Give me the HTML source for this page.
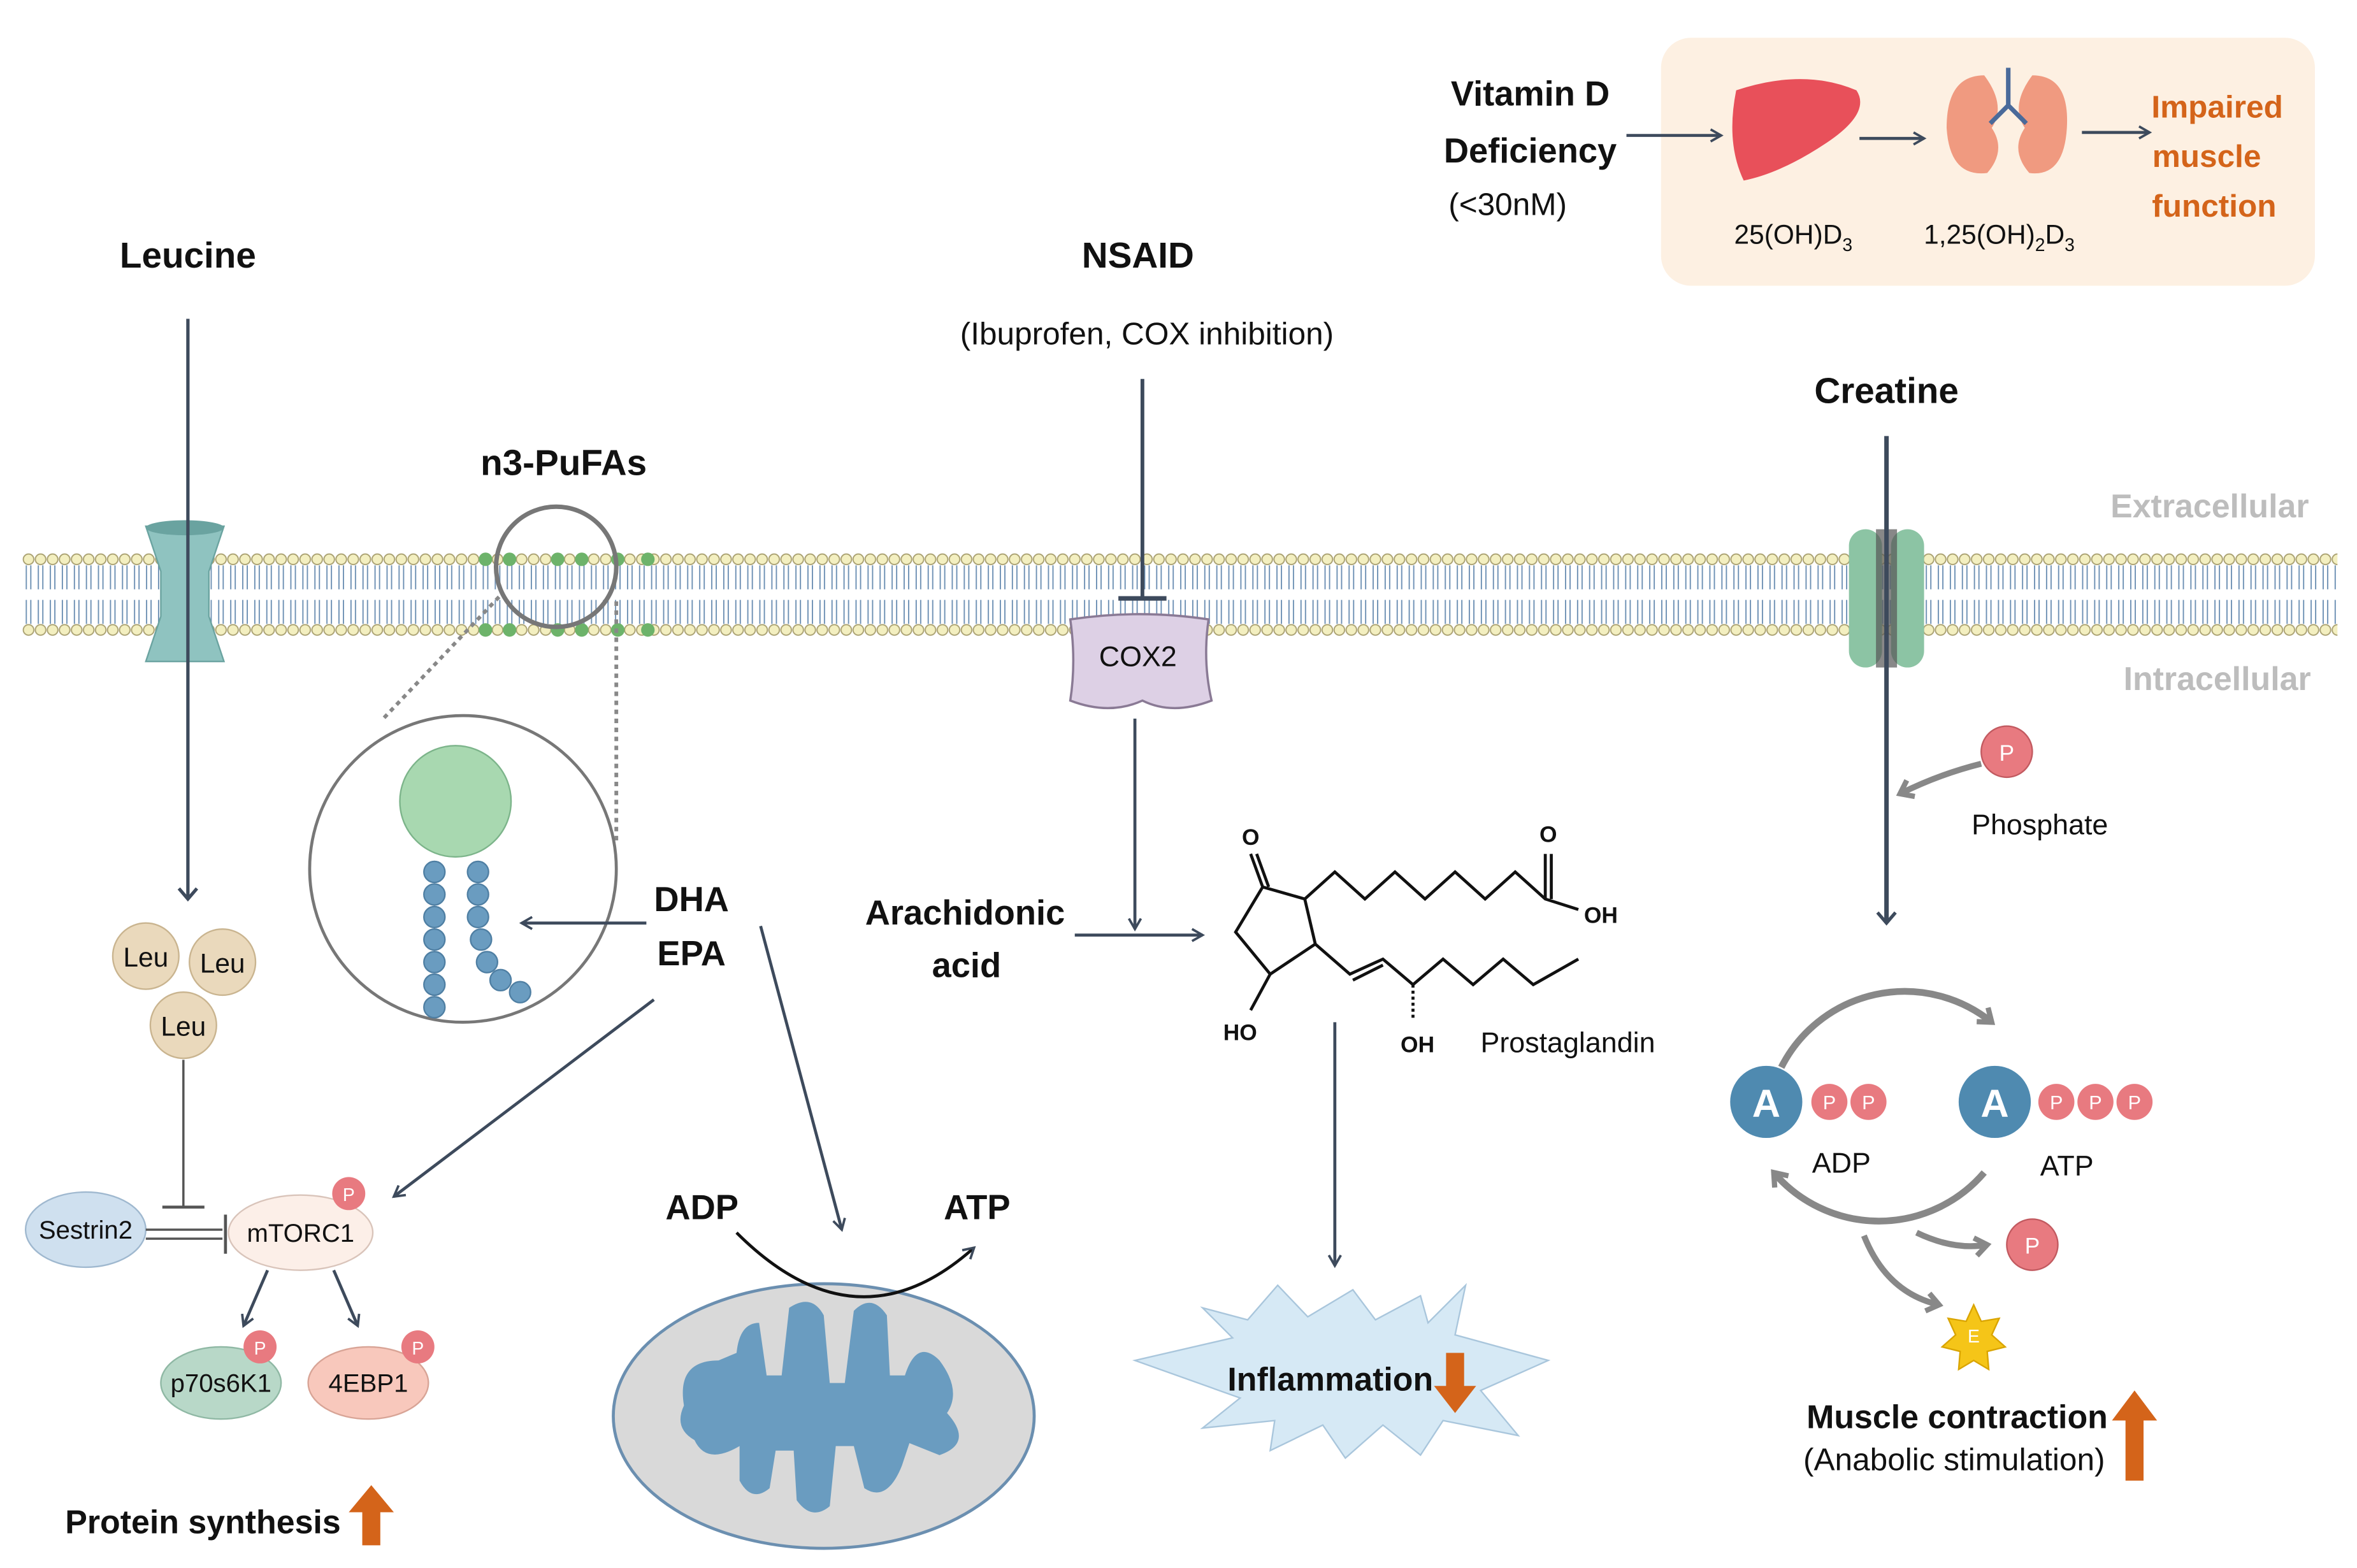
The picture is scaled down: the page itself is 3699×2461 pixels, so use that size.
<!DOCTYPE html>
<html><head><meta charset="utf-8"><style>
html,body{margin:0;padding:0;background:#fff;}
svg{display:block;}
text{font-family:"Liberation Sans",sans-serif;fill:#111;}
.b{font-weight:bold;}
</style></head><body>
<svg width="3699" height="2461" viewBox="0 0 1568 1043" xmlns="http://www.w3.org/2000/svg">
<defs>
<marker id="ar" markerWidth="10" markerHeight="10" refX="8" refY="5" orient="auto" markerUnits="userSpaceOnUse"><path d="M1,1 L8,5 L1,9" fill="none" stroke="#3d4a5c" stroke-width="1.6"/></marker>
<marker id="ag" markerWidth="16" markerHeight="16" refX="10" refY="8" orient="auto" markerUnits="userSpaceOnUse"><path d="M2,2 L10,8 L2,14" fill="none" stroke="#888" stroke-width="3.5"/></marker>
<marker id="ab" markerWidth="14" markerHeight="14" refX="8" refY="7" orient="auto" markerUnits="userSpaceOnUse"><path d="M1,1 L8,7 L1,13" fill="none" stroke="#3d4a5c" stroke-width="2.2"/></marker>
<pattern id="mem" x="15" y="360" width="8" height="70" patternUnits="userSpaceOnUse">
<path d="M2.5,16 v16 M5.5,16 v16 M2.5,39 v16 M5.5,39 v16" stroke="#6c8fb3" stroke-width="0.8" fill="none"/>
<circle cx="4" cy="12" r="3.5" fill="#f3efc0" stroke="#a9a070" stroke-width="0.8"/>
<circle cx="4" cy="59" r="3.5" fill="#f3efc0" stroke="#a9a070" stroke-width="0.8"/>
</pattern>
</defs>
<!-- membrane -->
<rect x="15" y="360" width="1540" height="70" fill="url(#mem)"/>
<g fill="#6db36a">
<circle cx="323" cy="372" r="4.5"/><circle cx="339" cy="372" r="4.5"/><circle cx="371" cy="372" r="4.5"/><circle cx="387" cy="372" r="4.5"/><circle cx="411" cy="372" r="4.5"/><circle cx="431" cy="372" r="4.5"/>
<circle cx="323" cy="419" r="4.5"/><circle cx="339" cy="419" r="4.5"/><circle cx="371" cy="419" r="4.5"/><circle cx="387" cy="419" r="4.5"/><circle cx="411" cy="419" r="4.5"/><circle cx="431" cy="419" r="4.5"/>
</g>
<!-- channels -->
<path d="M97,350 h52 l-10,30 v30 l10,30 h-52 l10,-30 v-30z" fill="#8fc3c0" stroke="#6aa3a0"/>
<ellipse cx="123" cy="351" rx="26" ry="5" fill="#6aa3a0"/>
<rect x="1230" y="352" width="22" height="92" rx="11" fill="#8cc4a4"/>
<rect x="1258" y="352" width="22" height="92" rx="11" fill="#8cc4a4"/>
<rect x="1248" y="352" width="14" height="92" fill="#555" opacity="0.7"/>
<text x="1470" y="344" class="b" font-size="22" text-anchor="middle" style="fill:#bdbdbd">Extracellular</text>
<text x="1475" y="459" class="b" font-size="22" text-anchor="middle" style="fill:#bdbdbd">Intracellular</text>

<!-- Vitamin D -->
<rect x="1105" y="25" width="435" height="165" rx="20" fill="#fdf0e2"/>
<text x="1018" y="70" class="b" font-size="23" text-anchor="middle">Vitamin D</text>
<text x="1018" y="108" class="b" font-size="23" text-anchor="middle">Deficiency</text>
<text x="1003" y="143" font-size="21" text-anchor="middle">(&lt;30nM)</text>
<line x1="1082" y1="90" x2="1145" y2="90" stroke="#3d4a5c" stroke-width="2" marker-end="url(#ar)"/>
<path d="M1155,60 Q1200,45 1235,60 Q1245,75 1215,95 Q1185,115 1160,120 Q1148,95 1155,60z" fill="#e8505a"/>
<line x1="1237" y1="92" x2="1280" y2="92" stroke="#3d4a5c" stroke-width="2" marker-end="url(#ar)"/>
<path d="M1320,50 Q1295,50 1295,85 Q1297,118 1322,115 Q1335,100 1325,85 Q1335,70 1320,50z" fill="#f09a80"/>
<path d="M1352,50 Q1377,50 1375,85 Q1373,118 1350,115 Q1337,100 1347,85 Q1337,70 1352,50z" fill="#f09a80"/>
<path d="M1336,45 v25 M1336,70 l-12,12 M1336,70 l12,12" stroke="#4a6a9a" stroke-width="3" fill="none"/>
<line x1="1385" y1="88" x2="1430" y2="88" stroke="#3d4a5c" stroke-width="2" marker-end="url(#ar)"/>
<text x="1475" y="78" class="b" font-size="21" text-anchor="middle" style="fill:#d4641a">Impaired</text>
<text x="1468" y="111" class="b" font-size="21" text-anchor="middle" style="fill:#d4641a">muscle</text>
<text x="1473" y="144" class="b" font-size="21" text-anchor="middle" style="fill:#d4641a">function</text>
<text x="1193" y="162" font-size="18" text-anchor="middle">25(OH)D<tspan font-size="12" dy="5">3</tspan></text>
<text x="1330" y="162" font-size="18" text-anchor="middle">1,25(OH)<tspan font-size="12" dy="5">2</tspan><tspan dy="-5">D</tspan><tspan font-size="12" dy="5">3</tspan></text>

<!-- Leucine -->
<text x="125" y="178" class="b" font-size="24" text-anchor="middle">Leucine</text>
<line x1="125" y1="212" x2="125" y2="598" stroke="#3d4a5c" stroke-width="2.2" marker-end="url(#ab)"/>
<g font-size="18" text-anchor="middle">
<circle cx="97" cy="636" r="22" fill="#ead9bc" stroke="#c9b48f"/><text x="97" y="643">Leu</text>
<circle cx="148" cy="640" r="22" fill="#ead9bc" stroke="#c9b48f"/><text x="148" y="647">Leu</text>
<circle cx="122" cy="682" r="22" fill="#ead9bc" stroke="#c9b48f"/><text x="122" y="689">Leu</text>
</g>
<line x1="122" y1="705" x2="122" y2="803" stroke="#555" stroke-width="1.5"/>
<line x1="108" y1="803" x2="136" y2="803" stroke="#555" stroke-width="2"/>
<ellipse cx="57" cy="818" rx="40" ry="25" fill="#cfe0ef" stroke="#9fb8cf"/>
<text x="57" y="824" font-size="17" text-anchor="middle">Sestrin2</text>
<line x1="97" y1="818" x2="148" y2="818" stroke="#555" stroke-width="1.5"/>
<line x1="97" y1="824" x2="148" y2="824" stroke="#555" stroke-width="1.5"/>
<line x1="150" y1="808" x2="150" y2="834" stroke="#555" stroke-width="2"/>
<ellipse cx="200" cy="820" rx="48" ry="25" fill="#fcefe8" stroke="#d9c4ba"/>
<text x="200" y="826" font-size="17" text-anchor="middle">mTORC1</text>
<circle cx="232" cy="794" r="11" fill="#e87a80"/><text x="232" y="799" font-size="12" text-anchor="middle" style="fill:#fff">P</text>
<line x1="178" y1="845" x2="162" y2="882" stroke="#3d4a5c" stroke-width="2" marker-end="url(#ar)"/>
<line x1="222" y1="845" x2="238" y2="882" stroke="#3d4a5c" stroke-width="2" marker-end="url(#ar)"/>
<ellipse cx="147" cy="920" rx="40" ry="24" fill="#b8d8c8" stroke="#8fb8a4"/>
<text x="147" y="926" font-size="17" text-anchor="middle">p70s6K1</text>
<circle cx="173" cy="896" r="11" fill="#e87a80"/><text x="173" y="901" font-size="12" text-anchor="middle" style="fill:#fff">P</text>
<ellipse cx="245" cy="920" rx="40" ry="24" fill="#f8c8bc" stroke="#d8a496"/>
<text x="245" y="926" font-size="17" text-anchor="middle">4EBP1</text>
<circle cx="278" cy="896" r="11" fill="#e87a80"/><text x="278" y="901" font-size="12" text-anchor="middle" style="fill:#fff">P</text>
<text x="135" y="1020" class="b" font-size="22" text-anchor="middle">Protein synthesis</text>
<path d="M241,1028 v-22 h-9 l15,-18 l15,18 h-9 v22z" fill="#d4641a"/>

<!-- n3-PuFAs -->
<text x="375" y="316" class="b" font-size="24" text-anchor="middle">n3-PuFAs</text>
<circle cx="370" cy="377" r="40" fill="none" stroke="#777" stroke-width="3"/>
<line x1="332" y1="397" x2="255" y2="478" stroke="#888" stroke-width="2.5" stroke-dasharray="3,3"/>
<line x1="410" y1="400" x2="410" y2="560" stroke="#888" stroke-width="2.5" stroke-dasharray="3,3"/>
<circle cx="308" cy="578" r="102" fill="#fff" stroke="#777" stroke-width="2"/>
<circle cx="303" cy="533" r="37" fill="#a8d8b0" stroke="#7cb48a"/>
<g fill="#6a9cc0" stroke="#4f7fa3" stroke-width="1">
<circle cx="289" cy="580" r="7"/><circle cx="289" cy="595" r="7"/><circle cx="289" cy="610" r="7"/><circle cx="289" cy="625" r="7"/><circle cx="289" cy="640" r="7"/><circle cx="289" cy="655" r="7"/><circle cx="289" cy="670" r="7"/>
<circle cx="318" cy="580" r="7"/><circle cx="318" cy="595" r="7"/><circle cx="318" cy="610" r="7"/><circle cx="320" cy="625" r="7"/><circle cx="324" cy="640" r="7"/><circle cx="333" cy="652" r="7"/><circle cx="346" cy="660" r="7"/>
</g>
<text x="460" y="606" class="b" font-size="23" text-anchor="middle">DHA</text>
<text x="460" y="642" class="b" font-size="23" text-anchor="middle">EPA</text>
<line x1="430" y1="614" x2="347" y2="614" stroke="#3d4a5c" stroke-width="2" marker-end="url(#ar)"/>
<line x1="435" y1="665" x2="262" y2="796" stroke="#3d4a5c" stroke-width="2" marker-end="url(#ar)"/>
<line x1="506" y1="616" x2="560" y2="818" stroke="#3d4a5c" stroke-width="2" marker-end="url(#ar)"/>

<!-- mitochondrion -->
<ellipse cx="548" cy="942" rx="140" ry="88" fill="#d9d9d9" stroke="#6b8fb0" stroke-width="2"/>
<path d="M455,935 Q450,905 478,905 L490,900 Q492,880 505,880 L510,915 L520,915 L525,870 Q540,860 548,875 L552,920 L562,920 L568,872 Q580,860 590,875 L592,915 L602,915 Q610,890 625,905 Q640,925 630,940 Q648,960 625,968 L605,960 L600,975 Q590,1000 575,990 L568,962 L556,962 L552,1002 Q540,1012 530,998 L528,965 L516,965 L512,990 Q500,1000 492,985 L492,962 Q470,975 462,958 Q448,950 455,935z" fill="#6a9cc0"/>
<text x="467" y="811" class="b" font-size="23" text-anchor="middle">ADP</text>
<text x="650" y="811" class="b" font-size="23" text-anchor="middle">ATP</text>
<path d="M490,820 Q570,900 648,830" fill="none" stroke="#111" stroke-width="2" marker-end="url(#ar)"/>

<!-- NSAID -->
<text x="757" y="178" class="b" font-size="24" text-anchor="middle">NSAID</text>
<text x="763" y="229" font-size="21" text-anchor="middle">(Ibuprofen, COX inhibition)</text>
<line x1="760" y1="252" x2="760" y2="398" stroke="#3d4a5c" stroke-width="2.5"/>
<line x1="744" y1="398" x2="776" y2="398" stroke="#3d4a5c" stroke-width="3"/>
<path d="M712,412 Q758,405 804,412 Q800,440 806,466 Q780,476 760,466 Q738,476 712,466 Q716,440 712,412z" fill="#ddd0e5" stroke="#8a7a95" stroke-width="1.5"/>
<text x="757" y="443" font-size="19" text-anchor="middle">COX2</text>
<line x1="755" y1="478" x2="755" y2="618" stroke="#3d4a5c" stroke-width="2" marker-end="url(#ar)"/>
<text x="642" y="615" class="b" font-size="23" text-anchor="middle">Arachidonic</text>
<text x="643" y="650" class="b" font-size="23" text-anchor="middle">acid</text>
<line x1="715" y1="622" x2="800" y2="622" stroke="#3d4a5c" stroke-width="2" marker-end="url(#ar)"/>
<!-- prostaglandin -->
<g fill="none" stroke="#111" stroke-width="2">
<path d="M840,590 L868,598 L875,628 L845,648 L822,620z"/>
<path d="M840,590 L832,568 M844,590 L836,568"/>
<path d="M868,598 L888,580 L908,598 L928,580 L948,598 L968,580 L988,598 L1008,580 L1028,598 L1050,605"/>
<path d="M1028,598 L1028,568 M1032,598 L1032,568"/>
<path d="M875,628 L898,648 L920,638 L940,655 L960,638 L980,655 L1000,638 L1020,655 L1050,638"/>
<path d="M900,652 L920,642"/>
<path d="M845,648 L832,672"/>
<path d="M940,655 L940,678" stroke-dasharray="2,2"/>
</g>
<text x="832" y="562" font-size="15" class="b" text-anchor="middle">O</text>
<text x="1030" y="560" font-size="15" class="b" text-anchor="middle">O</text>
<text x="1065" y="614" font-size="15" class="b" text-anchor="middle">OH</text>
<text x="825" y="692" font-size="15" class="b" text-anchor="middle">HO</text>
<text x="943" y="700" font-size="15" class="b" text-anchor="middle">OH</text>
<text x="1043" y="700" font-size="19" text-anchor="middle">Prostaglandin</text>
<line x1="888" y1="680" x2="888" y2="842" stroke="#3d4a5c" stroke-width="2" marker-end="url(#ar)"/>
<path d="M800,870 L830,878 L850,855 L870,876 L900,858 L915,878 L945,862 L950,880 L975,855 L968,888 L1030,905 L985,925 L1010,955 L960,945 L945,968 L920,948 L895,970 L880,948 L845,965 L848,945 L800,950 L825,930 L755,905 L820,890z" fill="#d6e9f5" stroke="#a9c6dc"/>
<text x="885" y="925" class="b" font-size="22" text-anchor="middle">Inflammation</text>
<path d="M962,900 v22 h-8 l14,18 l14,-18 h-8 v-22z" fill="#d4641a"/>

<!-- Creatine -->
<text x="1255" y="268" class="b" font-size="24" text-anchor="middle">Creatine</text>
<line x1="1255" y1="290" x2="1255" y2="614" stroke="#3d4a5c" stroke-width="3" marker-end="url(#ab)"/>
<circle cx="1335" cy="500" r="17" fill="#e87a80" stroke="#c25a60"/><text x="1335" y="506" font-size="15" text-anchor="middle" style="fill:#fff">P</text>
<path d="M1318,508 Q1290,515 1264,528" fill="none" stroke="#888" stroke-width="4" marker-end="url(#ag)"/>
<text x="1357" y="555" font-size="19" text-anchor="middle">Phosphate</text>
<path d="M1185,710 A92,92 0 0 1 1325,680" fill="none" stroke="#888" stroke-width="4.5" marker-end="url(#ag)"/>
<path d="M1320,780 A92,92 0 0 1 1180,780" fill="none" stroke="#888" stroke-width="4.5" marker-end="url(#ag)"/>
<path d="M1275,820 Q1300,832 1322,828" fill="none" stroke="#888" stroke-width="4" marker-end="url(#ag)"/>
<path d="M1240,822 Q1255,860 1290,868" fill="none" stroke="#888" stroke-width="4" marker-end="url(#ag)"/>
<circle cx="1175" cy="733" r="24" fill="#4f8ab0"/><text x="1175" y="743" font-size="26" class="b" text-anchor="middle" style="fill:#fff">A</text>
<circle cx="1327" cy="733" r="24" fill="#4f8ab0"/><text x="1327" y="743" font-size="26" class="b" text-anchor="middle" style="fill:#fff">A</text>
<g font-size="13" text-anchor="middle">
<circle cx="1217" cy="733" r="12" fill="#e87a80"/><text x="1217" y="738" style="fill:#fff">P</text>
<circle cx="1243" cy="733" r="12" fill="#e87a80"/><text x="1243" y="738" style="fill:#fff">P</text>
<circle cx="1368" cy="733" r="12" fill="#e87a80"/><text x="1368" y="738" style="fill:#fff">P</text>
<circle cx="1394" cy="733" r="12" fill="#e87a80"/><text x="1394" y="738" style="fill:#fff">P</text>
<circle cx="1420" cy="733" r="12" fill="#e87a80"/><text x="1420" y="738" style="fill:#fff">P</text>
</g>
<text x="1225" y="780" font-size="19" text-anchor="middle">ADP</text>
<text x="1375" y="782" font-size="19" text-anchor="middle">ATP</text>
<circle cx="1352" cy="828" r="17" fill="#e87a80" stroke="#c25a60"/><text x="1352" y="834" font-size="15" text-anchor="middle" style="fill:#fff">P</text>
<path d="M1313,868 l5,11 12,-2 -5,11 9,8 -12,3 1,12 -10,-6 -10,6 1,-12 -12,-3 9,-8 -5,-11 12,2z" fill="#f5c518" stroke="#d9a400"/>
<text x="1313" y="893" font-size="12" text-anchor="middle" style="fill:#fff">E</text>
<text x="1302" y="950" class="b" font-size="22" text-anchor="middle">Muscle contraction</text>
<text x="1300" y="978" font-size="21" text-anchor="middle">(Anabolic stimulation)</text>
<path d="M1414,985 v-40 h-9 l15,-20 l15,20 h-9 v40z" fill="#d4641a"/>
</svg>
</body></html>
